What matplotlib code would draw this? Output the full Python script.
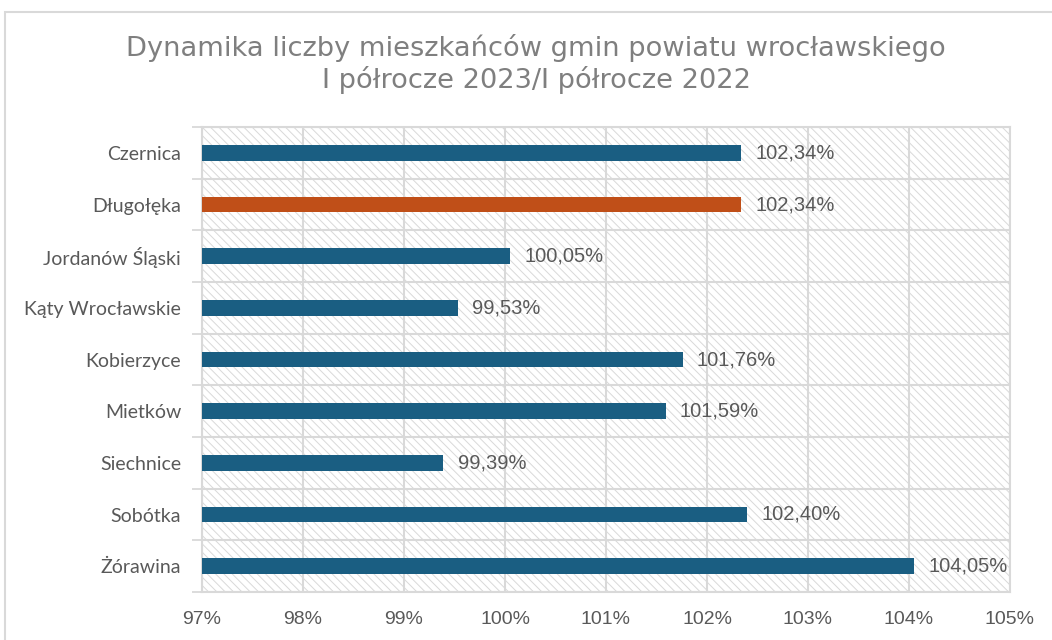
import matplotlib.pyplot as plt
from matplotlib.patches import Rectangle
from matplotlib.ticker import FixedLocator, FuncFormatter

# ---- data ----
gminy = ["Czernica", "Długołęka", "Jordanów Śląski", "Kąty Wrocławskie",
         "Kobierzyce", "Mietków", "Siechnice", "Sobótka", "Żórawina"]
dynamika = [102.34, 102.34, 100.05, 99.53, 101.76, 101.59, 99.39, 102.40, 104.05]
highlight = "Długołęka"
x_ticks = [97, 98, 99, 100, 101, 102, 103, 104, 105]

BLUE = "#1A5E82"
ORANGE = "#C04F18"
GRID = "#D9D9D9"
TXT = "#595959"

plt.rcParams["hatch.linewidth"] = 0.7
plt.rcParams["hatch.color"] = "#D9D9D9"

fig = plt.figure(figsize=(10.52, 6.4), dpi=100)
ax = fig.add_axes([202 / 1052, 1 - 592 / 640, 808 / 1052, 465 / 640])

# hatched background of the plot area
ax.add_patch(Rectangle((0, 0), 1, 1, transform=ax.transAxes, facecolor="white",
                       edgecolor="#D9D9D9", hatch="\\\\\\\\", lw=0, zorder=0))

ypos = list(range(len(gminy)))
colors = [ORANGE if g == highlight else BLUE for g in gminy]
ax.barh(ypos, [v - 97 for v in dynamika], left=97, height=0.3,
        color=colors, zorder=3)
for y, v in zip(ypos, dynamika):
    ax.text(v + 0.14, y, f"{v:.2f}%".replace(".", ","), va="center",
            ha="left", fontsize=14.5, color=TXT, family="Liberation Sans",
            zorder=4)

ax.set_xlim(97, 105)
ax.set_ylim(len(gminy) - 0.5, -0.5)
ax.xaxis.set_major_locator(FixedLocator(x_ticks))
ax.xaxis.set_major_formatter(FuncFormatter(lambda v, _: f"{v:.0f}%"))
ax.set_yticks(ypos)
ax.set_yticklabels(gminy, family="Lato", fontsize=14, color=TXT)
ax.set_yticks([i - 0.5 for i in range(len(gminy) + 1)], minor=True)
ax.tick_params(axis="y", which="major", length=0, pad=15)
ax.tick_params(axis="y", which="minor", length=7, color=GRID, width=1.3)
ax.tick_params(axis="x", length=0, pad=14, labelsize=14, labelcolor=TXT)
for lab in ax.get_xticklabels():
    lab.set_family("Liberation Sans")

ax.grid(axis="x", which="major", color=GRID, lw=1.5, zorder=1)
ax.grid(axis="y", which="minor", color=GRID, lw=1.5, zorder=1)
ax.set_axisbelow(True)
for s in ax.spines.values():
    s.set_color(GRID)
    s.set_linewidth(1.5)

# outer chart frame
fig.patches.append(Rectangle((5 / 1052, -0.1), 1.2, 1.1 - 12 / 640,
                             transform=fig.transFigure, fill=False,
                             edgecolor="#D9D9D9", lw=1.5))

fig.text(536 / 1052, 1 - 64 / 640, "Dynamika liczby mieszkańców gmin powiatu wrocławskiego\n"
         "I półrocze 2023/I półrocze 2022", ha="center", va="center",
         fontsize=19.6, color="#7F7F7F", family="DejaVu Sans",
         linespacing=1.2)

fig.savefig("out.png", dpi=100)
